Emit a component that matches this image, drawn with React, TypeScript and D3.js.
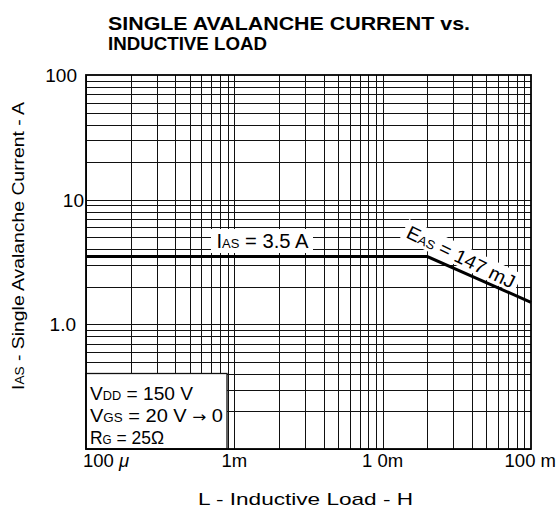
import React from "react";
import * as d3 from "d3";

// ---- data ----
const xTickValues = [1e-4, 1e-3, 1e-2, 1e-1];
const xTickLabels = ["100 ", "1m", "1 0m", "100 m"];
const yTickValues = [1, 10, 100];
const yTickLabels = ["1.0", "10", "100"];
const loadL = [1e-4, 0.02, 0.1];
const currentIAS = [3.5, 3.5, 1.5];

const W = 560;
const H = 515;
const FONT = "'Liberation Sans', Arial, Helvetica, sans-serif";

export default function App() {
  const x = d3.scaleLog().domain([1e-4, 1e-1]).range([86, 531]);
  const y = d3.scaleLog().domain([0.1, 100]).range([449, 75]);

  const gridX: number[] = [];
  const gridY: number[] = [];
  for (let e = -4; e < -1; e++) for (let k = 1; k <= 9; k++) gridX.push(k * Math.pow(10, e));
  for (let e = -1; e < 2; e++) for (let k = 1; k <= 9; k++) gridY.push(k * Math.pow(10, e));

  const line = d3
    .line<number>()
    .x((_, i) => x(loadL[i]))
    .y((d) => y(d));

  const cx = (v: number) => Math.round(x(v)) + 0.5;
  const cy = (v: number) => Math.round(y(v)) + 0.5;

  const x0 = x(1e-4), x1 = x(1e-1), y0 = y(100), y1 = y(0.1);

  const eAngle = 26;

  const xLabelAnchor = ["start", "middle", "middle", "end"];
  const xLabelOffset = [-3, 0, 0, 25];
  const yLabelOffset = [-10, -2, -9];

  return (
    <svg
      width={W}
      height={H}
      style={{ position: "absolute", left: 0, top: 0, background: "#fff" }}
      fontFamily={FONT}
    >
      <rect x={0} y={0} width={W} height={H} fill="#fff" />
      {/* title */}
      <text x={108} y={30} fontSize={18} fontWeight="bold" textLength={362} lengthAdjust="spacingAndGlyphs">
        SINGLE AVALANCHE CURRENT vs.
      </text>
      <text x={108} y={50} fontSize={18} fontWeight="bold" textLength={159} lengthAdjust="spacingAndGlyphs">
        INDUCTIVE LOAD
      </text>

      {/* grid */}
      <g stroke="#111" strokeWidth={1} shapeRendering="crispEdges">
        {gridX.map((v, i) => (
          <line key={"gx" + i} x1={cx(v)} x2={cx(v)} y1={y0} y2={y1} />
        ))}
        {gridY.map((v, i) => (
          <line key={"gy" + i} x1={x0} x2={x1} y1={cy(v)} y2={cy(v)} />
        ))}
      </g>

      {/* label backgrounds */}
      <rect x={211} y={229} width={102} height={24} fill="#fff" />
      <g transform={`translate(405,237) rotate(${eAngle})`}>
        <rect x={-4} y={-18} width={126} height={21} fill="#fff" />
      </g>

      {/* legend box */}
      <rect x={x0} y={373.5} width={227 - x0} height={y1 - 373.5} fill="#fff" stroke="#111" strokeWidth={1.3} />

      {/* I_AS curve */}
      <path d={line(currentIAS) || ""} fill="none" stroke="#000" strokeWidth={3} />

      {/* frame */}
      <rect x={x0} y={y0} width={x1 - x0} height={y1 - y0} fill="none" stroke="#000" strokeWidth={1.8} />

      {/* y tick labels */}
      {yTickValues.map((v, i) => (
        <text key={"yl" + i} x={x0 + yLabelOffset[i]} y={y(v) + 7} fontSize={19} textAnchor="end">
          {yTickLabels[i]}
        </text>
      ))}
      {/* x tick labels */}
      {xTickValues.map((v, i) => (
        <text key={"xl" + i} x={x(v) + xLabelOffset[i]} y={467} fontSize={18.5} textAnchor={xLabelAnchor[i]}>
          {xTickLabels[i]}
          {i === 0 ? <tspan fontStyle="italic">μ</tspan> : null}
        </text>
      ))}

      {/* axis titles */}
      <text x={198} y={505} fontSize={17} textLength={215} lengthAdjust="spacingAndGlyphs">
        L -  Inductive Load  - H
      </text>
      <text
        transform="translate(24,390) rotate(-90)"
        fontSize={17}
        textLength={288}
        lengthAdjust="spacingAndGlyphs"
      >
        I<tspan fontSize={12}>AS</tspan>  - Single Avalanche Current - A
      </text>

      {/* curve labels */}
      <text x={216.5} y={248} fontSize={19.5} textLength={92} lengthAdjust="spacingAndGlyphs">
        I<tspan fontSize={12.5}>AS</tspan> = 3.5 A
      </text>
      <g transform={`translate(405,237) rotate(${eAngle})`}>
        <text x={0} y={0} fontSize={19} textLength={118} lengthAdjust="spacingAndGlyphs">
          E<tspan fontSize={12.5}>AS</tspan> = 147 mJ
        </text>
      </g>

      {/* legend text */}
      <text x={90} y={400} fontSize={18} textLength={103} lengthAdjust="spacingAndGlyphs">
        V<tspan fontSize={12}>DD</tspan> = 150 V
      </text>
      <text x={90} y={422} fontSize={18} textLength={133} lengthAdjust="spacingAndGlyphs">
        V<tspan fontSize={12}>GS</tspan> = 20 V <tspan fontFamily="'DejaVu Sans', sans-serif" fontSize={15}>→</tspan> 0
      </text>
      <text x={90} y={444} fontSize={18} textLength={74} lengthAdjust="spacingAndGlyphs">
        R<tspan fontSize={12}>G</tspan> = 25Ω
      </text>
    </svg>
  );
}
